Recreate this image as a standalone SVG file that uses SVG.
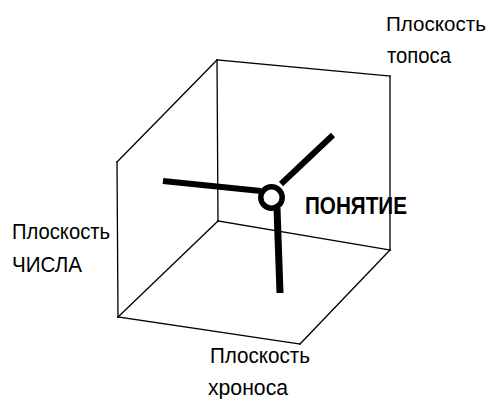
<svg xmlns="http://www.w3.org/2000/svg" width="491" height="399" viewBox="0 0 491 399">
<style>
.e{stroke:#000;stroke-width:1.3;fill:none;stroke-linecap:square}
.a{stroke:#000;stroke-width:6;fill:none;stroke-linecap:butt}
.t{font-family:"Liberation Sans",Arial,sans-serif;font-size:22px;fill:#000}
.b{font-family:"Liberation Sans",Arial,sans-serif;font-size:23px;font-weight:bold;fill:#000}
</style>
<rect width="491" height="399" fill="#fff"/>
<g id="connectors">
<g id="cube">
<line class="e" x1="217" y1="60" x2="390" y2="76"/>
<line class="e" x1="217" y1="60" x2="218" y2="221"/>
<line class="e" x1="390" y1="76" x2="390" y2="250"/>
<line class="e" x1="218" y1="221" x2="390" y2="250"/>
<line class="e" x1="217" y1="60" x2="117" y2="162"/>
<line class="e" x1="117" y1="162" x2="118" y2="317"/>
<line class="e" x1="218" y1="221" x2="118" y2="317"/>
<line class="e" x1="118" y1="317" x2="300" y2="344"/>
<line class="e" x1="300" y1="344" x2="390" y2="250"/>
</g>
<g id="arms">
<line class="a" x1="163" y1="181" x2="261" y2="191"/>
<line class="a" x1="281" y1="184" x2="333" y2="135"/>
<line class="a" x1="277" y1="208" x2="280" y2="293" style="stroke-width:7"/>
</g>
</g>
<g id="concept">
<circle cx="271.5" cy="197.5" r="10.7" fill="#fff" stroke="#000" stroke-width="5.5"/>
<text class="b" x="305" y="214" textLength="102" lengthAdjust="spacingAndGlyphs">ПОНЯТИЕ</text>
</g>
<g id="plane-topos">
<text class="t" x="386" y="31" textLength="100" lengthAdjust="spacingAndGlyphs" style="font-size:21px">Плоскость</text>
<text class="t" x="387" y="63" textLength="64" lengthAdjust="spacingAndGlyphs">топоса</text>
</g>
<g id="plane-chisla">
<text class="t" x="12" y="239" textLength="98" lengthAdjust="spacingAndGlyphs">Плоскость</text>
<text class="t" x="12" y="272" textLength="70" lengthAdjust="spacingAndGlyphs">ЧИСЛА</text>
</g>
<g id="plane-khronosa">
<text class="t" x="210" y="363" textLength="100" lengthAdjust="spacingAndGlyphs">Плоскость</text>
<text class="t" x="208" y="395" textLength="80" lengthAdjust="spacingAndGlyphs">хроноса</text>
</g>
</svg>
